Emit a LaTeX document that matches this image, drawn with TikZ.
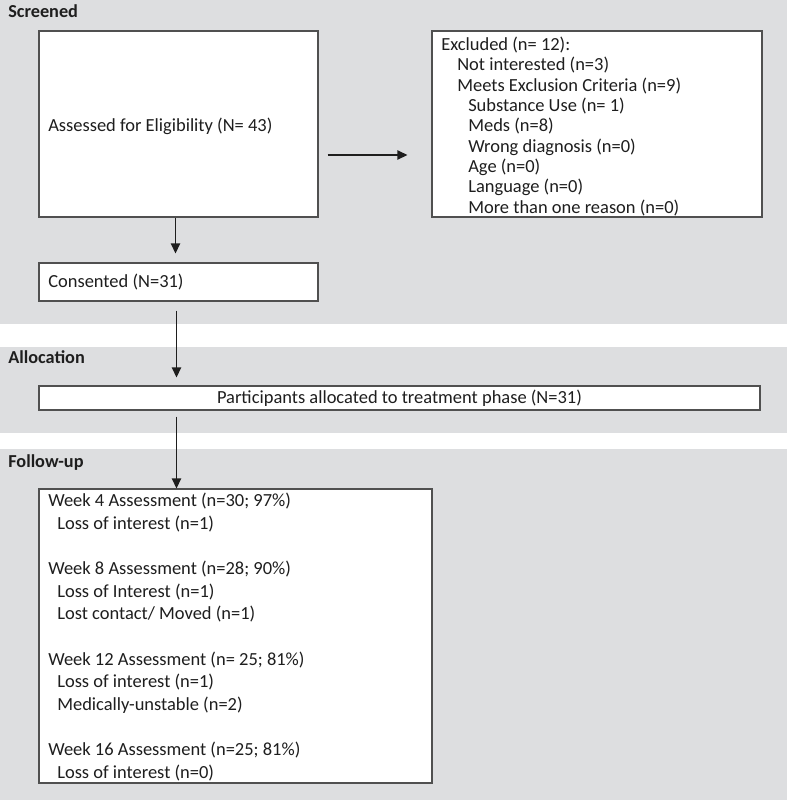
\documentclass[tikz,border=0pt]{standalone}
\usepackage{fontspec}
\setmainfont{Carlito}
\usetikzlibrary{arrows.meta,fit}
\definecolor{band}{RGB}{221,222,224}
\definecolor{edge}{RGB}{80,80,80}
\definecolor{ink}{RGB}{30,30,30}
\begin{document}
\begin{tikzpicture}[x=0.75pt,y=-0.75pt,
  box/.style={draw=edge, line width=0.9pt, fill=white, inner sep=0pt},
  txt/.style={anchor=west, inner sep=0pt, text=ink, text height=10pt, text depth=1.3pt, font=\fontsize{13.85}{16}\selectfont},
  head/.style={anchor=west, inner sep=0pt, text=ink, text height=10pt, text depth=1.3pt, font=\bfseries\fontsize{13.7}{16}\selectfont},
  arr/.style={-{Triangle[length=7.5pt,width=7pt]}, line width=1.1pt, draw=ink}]
\useasboundingbox (0,0) rectangle (787,800);
\fill[white] (0,0) rectangle (787,800);
\fill[band] (0,0) rectangle (787,324);
\fill[band] (0,347) rectangle (787,433);
\fill[band] (0,449) rectangle (787,800);

\node[head] (hscr) at (8,12) {Screened};
\node[head] (hall) at (8,358) {Allocation};
\node[head] (hfol) at (8,462) {Follow-up};

\node[box, fit={(39,31) (318,217)}] (assess) {};
\node[box, fit={(432,31) (762,217)}] (excl) {};
\node[box, fit={(39,263) (318,301)}] (consent) {};
\node[box, fit={(39,386) (760,410)}] (alloc) {};
\node[box, fit={(39,489) (432,783)}] (week) {};

\node[txt] (tassess) at (48,126) {Assessed for Eligibility (N= 43)};
\node[txt] (tconsent) at (48,282) {Consented (N=31)};
\node[txt, anchor=center] (talloc) at (399.5,398) {Participants allocated to treatment phase (N=31)};

\foreach \t/\x [count=\i from 0] in {{Excluded (n= 12):}/441,
  {Not interested (n=3)}/457, {Meets Exclusion Criteria (n=9)}/457,
  {Substance Use (n= 1)}/468, {Meds (n=8)}/468, {Wrong diagnosis (n=0)}/468,
  {Age (n=0)}/468, {Language (n=0)}/468, {More than one reason (n=0)}/468}
  \node[txt] (ex\i) at (\x,44.8+20.3*\i) {\t};

\foreach \t/\x/\y [count=\i] in {{Week 4 Assessment (n=30; 97\%)}/48/501,
  {Loss of interest (n=1)}/57/523.6,
  {Week 8 Assessment (n=28; 90\%)}/48/568.8,
  {Loss of Interest (n=1)}/57/591.4,
  {Lost contact/ Moved (n=1)}/57/614,
  {Week 12 Assessment (n= 25; 81\%)}/48/659.2,
  {Loss of interest (n=1)}/57/681.8,
  {Medically-unstable (n=2)}/57/704.4,
  {Week 16 Assessment (n=25; 81\%)}/48/749.6,
  {Loss of interest (n=0)}/57/772.2}
  \node[txt] (wk\i) at (\x,\y) {\t};

\coordinate (ca) at (175.5,155);
\coordinate (cb) at (176.5,0);
\draw[arr, shorten >=6.75pt] (assess.south -| ca) -- (consent.north -| ca);
\draw[arr, shorten <=6.75pt, shorten >=18pt] (assess.east |- ca) -- (excl.west |- ca);
\draw[arr, shorten <=6.75pt, shorten >=6pt] (consent.south -| cb) -- (alloc.north -| cb);
\draw[arr, shorten <=4.5pt] (alloc.south -| cb) -- (week.north -| cb);
\end{tikzpicture}
\end{document}
